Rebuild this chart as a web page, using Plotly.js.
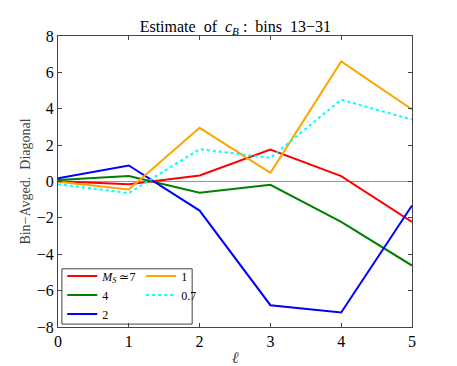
<!DOCTYPE html>
<html>
<head>
<meta charset="utf-8">
<script src="https://cdn.plot.ly/plotly-3.0.1.min.js"></script>
<style>
  body { margin: 0; background: #fff; }
  #plot { width: 457px; height: 366px; }
</style>
</head>
<body>
<div id="plot"></div>
<script>
// multipole index
const ell = [0, 1, 2, 3, 4, 5];

// bin-averaged diagonal, one series per M_S
const ms7 = [0.02, -0.15, 0.33, 1.75, 0.3, -2.22];
const ms4 = [0.08, 0.3, -0.62, -0.18, -2.22, -4.62];
const ms2 = [0.18, 0.88, -1.6, -6.8, -7.2, -1.32];
const ms1 = [-0.02, -0.44, 2.95, 0.48, 6.6, 3.96];
const ms07 = [-0.15, -0.64, 1.78, 1.3, 4.5, 3.4];

const names = ["<i>M</i><sub><i>S</i></sub> \u22437", "4", "2", "1", "0.7"];

const serif = "Liberation Serif";

function line(y, name, color, dash, legend) {
	return {
		x: ell, y: y, name: name, mode: "lines", legend: legend,
		line: { color: color, width: 2, dash: dash || "solid" }
	};
}

const traces = [
	line(ms7, names[0], "#ff0000", null, "legend"),
	line(ms4, names[1], "#008000", null, "legend"),
	line(ms2, names[2], "#0000ff", null, "legend"),
	line(ms1, names[3], "#ffa500", null, "legend2"),
	line(ms07, names[4], "#00ffff", "dot", "legend2")
];

const axisBase = {
	showgrid: false,
	showline: true, mirror: "ticks",
	linecolor: "#444", linewidth: 1,
	ticks: "inside", ticklen: 4, tickcolor: "#444",
	tickfont: { family: serif, size: 16, color: "#000" }
};

const legendBase = {
	bgcolor: "rgba(0,0,0,0)", borderwidth: 0,
	font: { family: serif, size: 12, color: "#000" },
	xanchor: "left", yanchor: "bottom", tracegroupgap: 0
};

const layout = {
	width: 457, height: 366,
	margin: { l: 58, r: 45, t: 36, b: 39 },
	paper_bgcolor: "#fff", plot_bgcolor: "#fff",
	title: {
		text: "Estimate  of  <i>c</i><sub><i>B</i></sub> :  bins  13\u221231",
		font: { family: serif, size: 16, color: "#000" },
		x: 0.515, xanchor: "center", y: 0.928, yanchor: "middle"
	},
	xaxis: Object.assign({}, axisBase, {
		range: [0, 5], dtick: 1, zeroline: false,
		title: { text: "<i>\u2113</i>", font: { family: serif, size: 16 }, standoff: 2 }
	}),
	yaxis: Object.assign({}, axisBase, {
		range: [-8, 8], dtick: 2,
		zeroline: true, zerolinecolor: "#999", zerolinewidth: 1.5,
		title: { text: "Bin\u2212Avged.  Diagonal", font: { family: serif, size: 14 }, standoff: 2 }
	}),
	legend: Object.assign({}, legendBase, { x: 0.012, y: -0.005 }),
	legend2: Object.assign({}, legendBase, { x: 0.235, y: 0.06 }),
	shapes: [{
		type: "rect", xref: "paper", yref: "paper",
		x0: 0.011, x1: 0.379, y0: 0.01, y1: 0.2,
		line: { color: "#444", width: 1 }, fillcolor: "rgba(0,0,0,0)"
	}],
	showlegend: true
};

Plotly.newPlot("plot", traces, layout, { displayModeBar: false, staticPlot: true });
</script>
</body>
</html>
